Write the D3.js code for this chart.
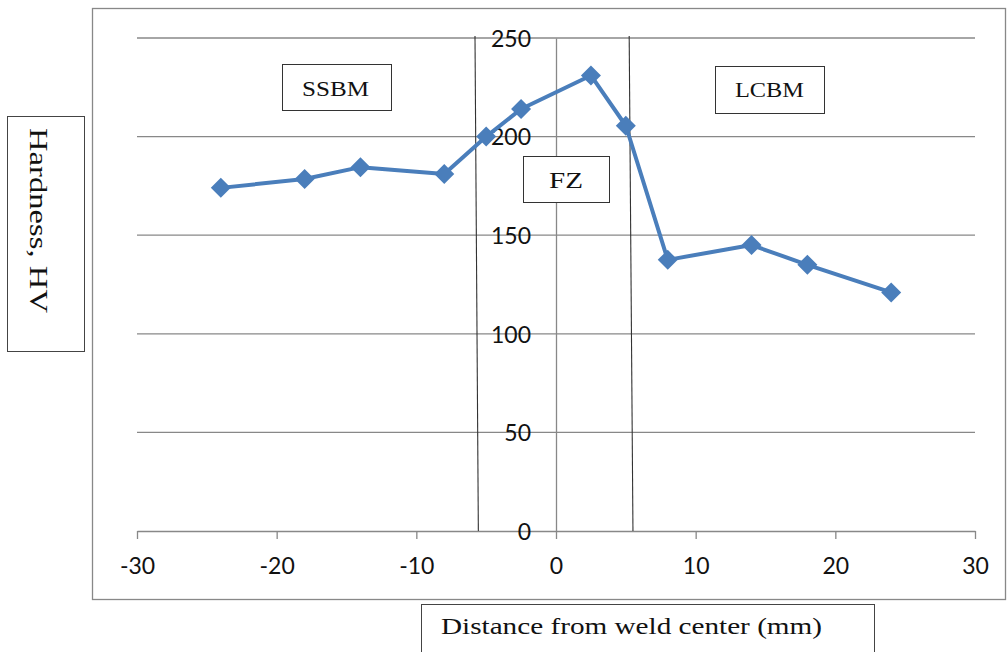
<!DOCTYPE html>
<html>
<head>
<meta charset="utf-8">
<script src="https://cdn.jsdelivr.net/npm/d3@7"></script>
<style>
  html, body { margin: 0; padding: 0; background: #fff; }
  svg { display: block; }
</style>
</head>
<body>
<svg id="chart" width="1007" height="652"></svg>
<script>
// ---- data ----
const distance = [-24, -18, -14, -8, -5, -2.5, 2.5, 5, 8, 14, 18, 24];
const hardness = [174, 178.5, 184.5, 181, 200, 214, 231, 205.5, 137.5, 145, 135, 121];
const xTicks = [-30, -20, -10, 0, 10, 20, 30];
const yTicks = [0, 50, 100, 150, 200, 250];
const zoneNames = ["SSBM", "FZ", "LCBM"];
const boundaryTopX = [-5.8, 5.24];
const boundaryBottomX = [-5.56, 5.51];
const boundaryTopY = 251;
const xTitle = "Distance from weld center (mm)";
const yTitle = "Hardness, HV";

// ---- layout ----
const svg = d3.select("#chart");
const x = d3.scaleLinear().domain([-30, 30]).range([137, 975]);
const y = d3.scaleLinear().domain([0, 250]).range([531, 38]);
const grey = "#888888";
const blue = "#4a7ebb";
const tickFont = "Lato, 'Liberation Sans Narrow', sans-serif";
const serif = "'Liberation Serif', 'Times New Roman', serif";
const plainFormat = d => String(d);

// chart border
svg.append("rect").attr("x", 92.5).attr("y", 8.5).attr("width", 913).attr("height", 591)
  .attr("fill", "#fff").attr("stroke", grey).attr("stroke-width", 1.3);

// gridlines
svg.append("g").selectAll("line").data(yTicks.filter(d => d > 0)).join("line")
  .attr("x1", x(-30)).attr("x2", x(30))
  .attr("y1", d => y(d)).attr("y2", d => y(d))
  .attr("stroke", grey).attr("stroke-width", 1.3);

// x axis (bottom at y=0) with outward ticks
const xAxis = d3.axisBottom(x).tickValues(xTicks).tickSize(8).tickSizeOuter(0).tickFormat(plainFormat);
const gx = svg.append("g").attr("transform", `translate(0,${y(0)})`).call(xAxis);
gx.select(".domain").attr("stroke", grey).attr("stroke-width", 1.3);
gx.selectAll(".tick line").attr("stroke", grey).attr("stroke-width", 1.3);
gx.selectAll(".tick text").attr("font-family", tickFont).attr("font-size", 23)
  .attr("fill", "#111").attr("dy", null).attr("y", 43);

// y axis at x=0, labels to the left
const yAxis = d3.axisLeft(y).tickValues(yTicks).tickSize(0).tickSizeOuter(0).tickPadding(25).tickFormat(plainFormat);
const gy = svg.append("g").attr("transform", `translate(${x(0)},0)`).call(yAxis);
gy.select(".domain").attr("stroke", grey).attr("stroke-width", 1.3);
gy.selectAll(".tick text").attr("font-family", tickFont).attr("font-size", 23)
  .attr("fill", "#111").attr("dy", "0.36em");

// zone boundary lines (slightly slanted)
svg.append("g").selectAll("line").data(boundaryTopX).join("line")
  .attr("x1", d => x(d)).attr("y1", y(boundaryTopY))
  .attr("x2", (d, i) => x(boundaryBottomX[i])).attr("y2", y(0))
  .attr("stroke", "#333").attr("stroke-width", 1.1);

// series line + markers
const pts = distance.map((d, i) => [d, hardness[i]]);
svg.append("path").datum(pts)
  .attr("d", d3.line().x(d => x(d[0])).y(d => y(d[1])))
  .attr("fill", "none").attr("stroke", blue).attr("stroke-width", 4)
  .attr("stroke-linejoin", "round");
svg.append("g").selectAll("path").data(pts).join("path")
  .attr("transform", d => `translate(${x(d[0])},${y(d[1])})`)
  .attr("d", "M0,-10L10,0L0,10L-10,0Z")
  .attr("fill", blue);

// zone label boxes
const zoneBoxes = [
  { x0: 282, y0: 64, x1: 391, y1: 110, tx: 302, tw: 67, base: 96, fs: 22 },
  { x0: 523, y0: 156, x1: 609, y1: 202, tx: 549, tw: 34, base: 188, fs: 23 },
  { x0: 715, y0: 66, x1: 824, y1: 113, tx: 735, tw: 69, base: 97, fs: 22 }
];
zoneBoxes.forEach((b, i) => {
  svg.append("rect").attr("x", b.x0 + 0.5).attr("y", b.y0 + 0.5)
    .attr("width", b.x1 - b.x0).attr("height", b.y1 - b.y0)
    .attr("fill", "#fff").attr("stroke", "#333").attr("stroke-width", 1);
  svg.append("text").attr("x", b.tx).attr("y", b.base)
    .attr("font-family", serif).attr("font-size", b.fs).attr("fill", "#111")
    .attr("textLength", b.tw).attr("lengthAdjust", "spacingAndGlyphs")
    .text(zoneNames[i]);
});

// y title box
svg.append("rect").attr("x", 7.5).attr("y", 116.5).attr("width", 77).attr("height", 235)
  .attr("fill", "#fff").attr("stroke", "#444").attr("stroke-width", 1);
svg.append("text").attr("transform", "translate(30,128) rotate(90)")
  .attr("font-family", serif).attr("font-size", 25).attr("fill", "#111")
  .attr("textLength", 185).attr("lengthAdjust", "spacingAndGlyphs")
  .text(yTitle);

// x title box
svg.append("rect").attr("x", 421.5).attr("y", 604.5).attr("width", 453).attr("height", 60)
  .attr("fill", "#fff").attr("stroke", "#444").attr("stroke-width", 1);
svg.append("text").attr("x", 441).attr("y", 634)
  .attr("font-family", serif).attr("font-size", 24).attr("fill", "#111")
  .attr("textLength", 381).attr("lengthAdjust", "spacingAndGlyphs")
  .text(xTitle);
</script>
</body>
</html>
